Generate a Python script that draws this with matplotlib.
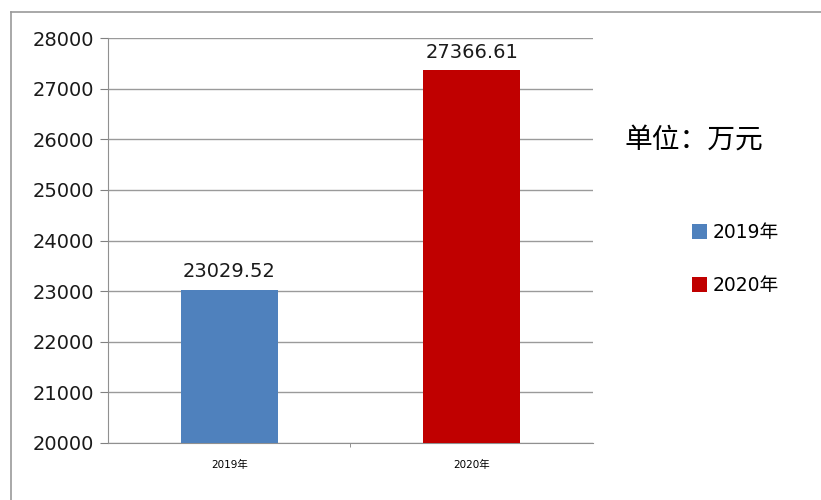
import matplotlib.pyplot as plt
from matplotlib.lines import Line2D
from matplotlib.patches import Patch

plt.rcParams['font.family'] = ['DejaVu Sans', 'Noto Sans CJK SC']

# 数据
categorias = ['2019年', '2020年']
valores = [23029.52, 27366.61]
colores = ['#4F81BD', '#C00000']
etiquetas_y = [20000, 21000, 22000, 23000, 24000, 25000, 26000, 27000, 28000]

fig = plt.figure(figsize=(8.21, 5), dpi=100)
ax = fig.add_axes([0.1315, 0.114, 0.5908, 0.81])

x = list(range(len(categorias)))
barras = ax.bar(x, valores, width=0.4, color=colores, zorder=3)

for xi, v in zip(x, valores):
    ax.annotate(f'{v:.2f}', (xi, v), xytext=(0, 6), textcoords='offset points',
                ha='center', va='bottom', fontsize=14, color='#1a1a1a')

ax.set_xlim(-0.5, 1.5)
ax.set_ylim(etiquetas_y[0], etiquetas_y[-1])
ax.set_yticks(etiquetas_y)
ax.set_yticklabels([str(t) for t in etiquetas_y], fontsize=14, color='#1a1a1a')
ax.set_xticks(x)
ax.set_xticklabels(categorias, fontsize=7.5, family=['DejaVu Sans', 'Noto Sans CJK SC'])
ax.set_xticks([0.5], minor=True)
ax.tick_params(axis='x', which='major', length=0, pad=12)
ax.tick_params(axis='x', which='minor', length=3, color='#808080', direction='out')
ax.tick_params(axis='y', length=6, color='#808080', pad=4)

ax.grid(axis='y', color='#9a9a9a', linewidth=1, zorder=0)
for lado in ['top', 'right']:
    ax.spines[lado].set_visible(False)
ax.spines['left'].set_color('#909090')
ax.spines['bottom'].set_color('#909090')

fig.text(624 / 821, 1 - 140 / 500, '单位：万元', fontsize=20, va='center', ha='left',
         family=['Noto Sans CJK SC'])

handles = [Patch(facecolor=c, edgecolor='none') for c in colores]
fig.legend(handles, categorias, loc='center left', bbox_to_anchor=(675 / 821, 1 - 259 / 500),
           frameon=False, fontsize=13.5, handlelength=0.8, handleheight=0.8,
           handletextpad=0.3, labelspacing=1.8)

# marco exterior
fig.add_artist(Line2D([11 / 821, 11 / 821], [0, 1 - 12 / 500], color='#9a9a9a', linewidth=1.2))
fig.add_artist(Line2D([11 / 821, 1], [1 - 12 / 500, 1 - 12 / 500], color='#9a9a9a', linewidth=1.2))

fig.savefig('out.png', dpi=100)
